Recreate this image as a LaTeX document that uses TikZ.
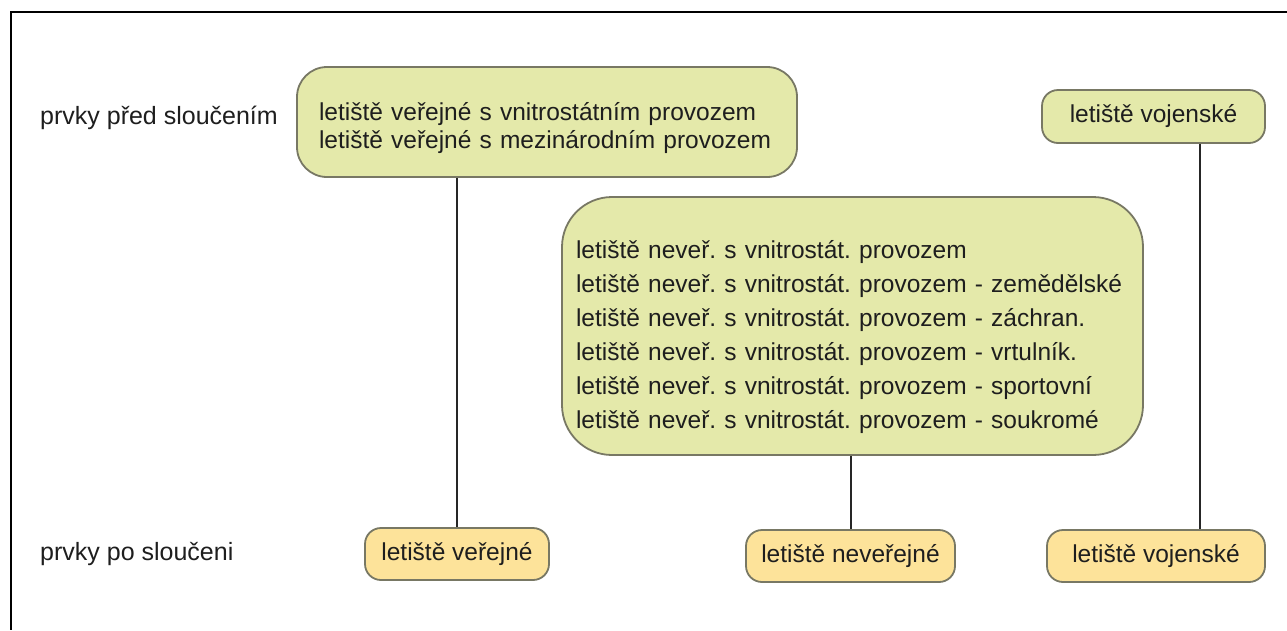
\documentclass[tikz,border=0pt]{standalone}
\usepackage{fontspec}
\setmainfont{Liberation Sans}
\frenchspacing
\definecolor{greenfill}{RGB}{228,233,170}
\definecolor{orangefill}{RGB}{253,227,154}
\definecolor{boxline}{RGB}{120,120,100}
\definecolor{txt}{RGB}{30,30,30}
\begin{document}
\begin{tikzpicture}[x=1pt,y=-1pt,
  base/.style={draw=boxline, line width=1.8pt, inner ysep=0pt, text=txt,
    font=\frenchspacing\fontsize{24.5}{28}\selectfont},
  greenbox/.style={base, fill=greenfill},
  orangebox/.style={base, fill=orangefill},
  lbl/.style={anchor=west, inner sep=0pt, text=txt, font=\fontsize{25}{28}\selectfont},
  conn/.style={line width=2pt, draw=black!85}]
\useasboundingbox (0,0) rectangle (1287,630);
\fill[white] (0,0) rectangle (1287,630);
% frame
\draw[line width=1.5pt] (1287,12) -- (11,12) -- (11,630);
% labels
\node[lbl] (pred) at (40,118) {prvky před sloučením};
\node[lbl] (po) at (40,554) {prvky po sloučeni};
% top boxes
\node[greenbox, rounded corners=30pt, minimum height=110pt, text width=456pt,
  inner xsep=22pt, align=left] (verpred) at (547,122)
  {\rule{0pt}{30pt}letiště veřejné s vnitrostátním provozem\\letiště veřejné s mezinárodním provozem};
\node[greenbox, rounded corners=16pt, minimum width=223pt, minimum height=53pt]
  (vojpred) at (1153.5,116.5) {letiště vojenské};
\node[greenbox, rounded corners=50pt, minimum height=258pt, text width=553pt,
  inner xsep=14pt, align=left, font=\frenchspacing\fontsize{24.5}{34}\selectfont]
  (nevpred) at (852.5,326)
  {\rule{0pt}{40pt}letiště neveř. s vnitrostát. provozem\\
   letiště neveř. s vnitrostát. provozem - zemědělské\\
   letiště neveř. s vnitrostát. provozem - záchran.\\
   letiště neveř. s vnitrostát. provozem - vrtulník.\\
   letiště neveř. s vnitrostát. provozem - sportovní\\
   letiště neveř. s vnitrostát. provozem - soukromé};
% bottom boxes
\node[orangebox, rounded corners=16pt, minimum width=184pt, minimum height=52pt]
  (verpo) at (457,554) {letiště veřejné};
\node[orangebox, rounded corners=16pt, minimum width=209pt, minimum height=52pt]
  (nevpo) at (850.5,556) {letiště neveřejné};
\node[orangebox, rounded corners=16pt, minimum width=218pt, minimum height=52pt]
  (vojpo) at (1156,556) {letiště vojenské};
% connectors
\coordinate (mx) at (1200,0);
\draw[conn] (verpred.south -| verpo.north) -- (verpo.north);
\draw[conn] (nevpred.south -| nevpo.north) -- (nevpo.north);
\draw[conn] (vojpred.south -| mx) -- (vojpo.north -| mx);
\end{tikzpicture}
\end{document}
